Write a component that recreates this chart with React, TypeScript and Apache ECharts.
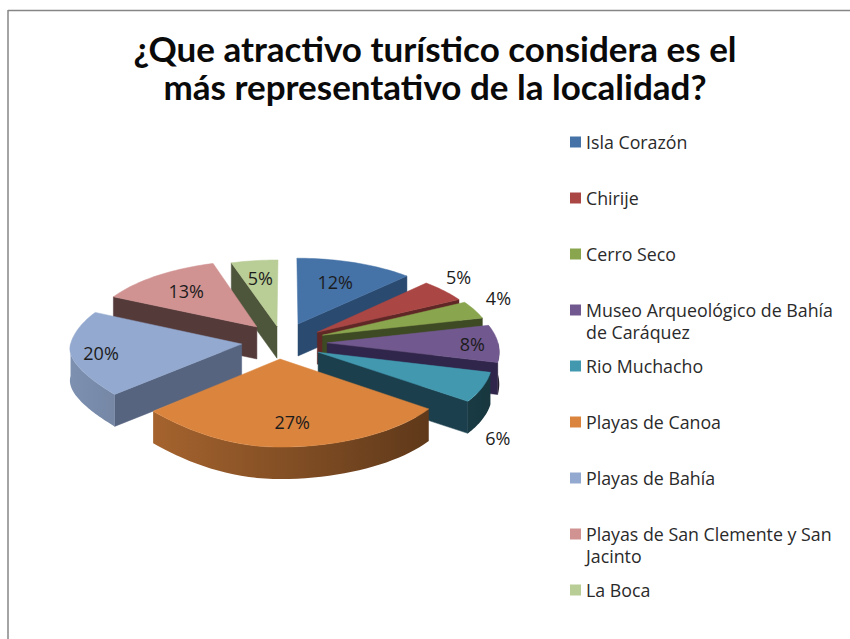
import React, { useEffect, useRef } from "react";
import * as echarts from "echarts";

const titleText = "¿Que atractivo turístico considera es el\nmás representativo de la localidad?";
const categories = [
  "Isla Corazón",
  "Chirije",
  "Cerro Seco",
  "Museo Arqueológico de Bahía\nde Caráquez",
  "Rio Muchacho",
  "Playas de Canoa",
  "Playas de Bahía",
  "Playas de San Clemente y San\nJacinto",
  "La Boca",
];
const shares = [12, 5, 4, 8, 6, 27, 20, 13, 5];
const topColors = ["#4572A7", "#AA4643", "#89A54E", "#71588F", "#4198AF", "#DB843D", "#93A9CF", "#D19392", "#B9CD96"];
const faceColors = ["#2A4A70", "#5F2725", "#3E4A24", "#30254A", "#1B3F4C", "#5A3414", "#566480", "#553A3A", "#4D553A"];
// how far each wedge is pulled away from the pie centre (fractions of the radius)
const pullX = [0.066, 0.18, 0.21, 0.235, 0.18, -0.04, -0.265, -0.18, -0.06];
const pullY = [-0.2, -0.09, -0.05, 0.05, 0.17, 0.255, 0.065, -0.16, -0.17];
// label placement along each wedge's middle angle (fractions of the radius) and extra drop in px
const labelRadius = [0.66, 1.16, 1.18, 0.85, 1.09, 0.72, 0.82, 0.69, 0.72];
const labelDrop = [0, -6, -6, 1, 47, 1, -3, 0, 0];

const CX = 287, CY = 339, R = 170, TILT = 0.45, PERSP = 0.1, DEPTH = 32;
const TITLE_FONT = "Lato, sans-serif";
const FONT = "'Open Sans', sans-serif";

const total = shares.reduce((a, b) => a + b, 0);
const rad = (d: number) => (d * Math.PI) / 180;
const project = (X: number, Y: number): [number, number] => {
  const s = 1 + PERSP * Y;
  return [CX + R * X * s, CY + R * TILT * Y * s];
};
const down = (p: [number, number]): [number, number] => [p[0], p[1] + DEPTH];
const wallFill = (hex: string) =>
  new echarts.graphic.LinearGradient(
    70,
    0,
    500,
    0,
    [
      { offset: 0, color: mix(hex, 0.85) },
      { offset: 1, color: mix(hex, 0.35) },
    ],
    true
  );
function mix(hex: string, f: number) {
  const n = parseInt(hex.slice(1), 16);
  const c = [(n >> 16) & 255, (n >> 8) & 255, n & 255].map((v) => Math.round(v * f));
  return `rgb(${c[0]},${c[1]},${c[2]})`;
}

function wedgeAngles(i: number) {
  const before = shares.slice(0, i).reduce((a, b) => a + b, 0);
  return [(before / total) * 360, ((before + shares[i]) / total) * 360];
}

function makeRender(i: number) {
  return (_params: any, api: any) => {
    const [a0] = wedgeAngles(i);
    const a1 = a0 + (api.value(0) / total) * 360;
    const px = pullX[i], py = pullY[i];
    // the 3D view bends the angles a little, differently per quadrant
    const rim = (deg: number) => {
      const twist = Math.sin(rad(2 * deg));
      const forX = deg < 90 ? 2 : 0;
      const forY = deg < 90 ? 2 : deg > 180 && deg < 270 ? 9 : 0;
      return project(px + Math.sin(rad(deg + forX * twist)), py - Math.cos(rad(deg + forY * twist)));
    };
    const apex = project(px, py);
    const children: any[] = [];
    const face = (deg: number) => {
      const p = rim(deg);
      children.push({
        type: "polygon",
        shape: { points: [apex, p, down(p), down(apex)] },
        style: { fill: faceColors[i], stroke: faceColors[i], lineWidth: 0.5 },
      });
    };
    if (Math.sin(rad(a0)) < 0) face(a0);
    if (Math.sin(rad(a1)) > 0) face(a1);
    // visible part of the outer wall
    const lo = Math.max(a0, 90), hi = Math.min(a1, 270);
    if (hi > lo) {
      const upper: [number, number][] = [];
      for (let k = 0; k <= 40; k++) upper.push(rim(lo + ((hi - lo) * k) / 40));
      const lower = upper.map(down).reverse();
      children.push({
        type: "polygon",
        shape: { points: [...upper, ...lower] },
        style: { fill: wallFill(topColors[i]) },
      });
    }
    const pts: [number, number][] = [apex];
    for (let d = a0; d < a1; d += 1.5) pts.push(rim(d));
    pts.push(rim(a1));
    children.push({
      type: "polygon",
      shape: { points: pts },
      style: { fill: topColors[i], stroke: topColors[i], lineWidth: 0.5 },
    });
    const mid = (a0 + a1) / 2;
    const lp = project(px + labelRadius[i] * Math.sin(rad(mid)), py - labelRadius[i] * Math.cos(rad(mid)));
    children.push({
      type: "text",
      z2: 100,
      style: {
        text: `${Math.round((api.value(0) / total) * 100)}%`,
        x: lp[0],
        y: lp[1] + labelDrop[i],
        align: "center",
        verticalAlign: "middle",
        fill: "#1c1c1c",
        font: `18px ${FONT}`,
      },
    });
    return { type: "group", children };
  };
}

export default function App() {
  const ref = useRef<HTMLDivElement>(null);
  useEffect(() => {
    const chart = echarts.init(ref.current!, undefined, { renderer: "svg" });
    const depthOf = (i: number) => {
      const [a0, a1] = wedgeAngles(i);
      return pullY[i] - Math.cos(rad((a0 + a1) / 2));
    };
    const order = categories.map((_, i) => i).sort((a, b) => depthOf(a) - depthOf(b));
    const PITCH = 56, FIRST = 142;
    chart.setOption({
      animation: false,
      backgroundColor: "#ffffff",
      title: {
        text: titleText,
        left: 430,
        top: 24,
        textAlign: "center",
        textStyle: { fontFamily: TITLE_FONT, fontSize: 35, fontWeight: "bold", color: "#0a0a0a", lineHeight: 38 },
      },
      legend: categories.map((name, i) => {
        const twoLine = name.includes("\n");
        return {
          data: [name],
          left: 570,
          top: FIRST + i * PITCH - (twoLine ? 33 : 11),
          orient: "vertical",
          icon: "rect",
          itemWidth: 11,
          itemHeight: 11,
          itemGap: 0,
          padding: 0,
          selectedMode: false,
          formatter: (n: string) => (n.includes("\n") ? "\n" + n : n),
          textStyle: {
            fontFamily: FONT,
            fontSize: 17.8,
            lineHeight: 22,
            color: "#2a2a2a",
          },
        };
      }),
      graphic: [
        { type: "line", shape: { x1: 8, y1: 10.5, x2: 850, y2: 10.5 }, style: { stroke: "#868686", lineWidth: 1.5 } },
        { type: "line", shape: { x1: 8, y1: 10, x2: 8, y2: 639 }, style: { stroke: "#868686", lineWidth: 1.5 } },
      ],
      series: categories.map((name, i) => ({
        type: "custom",
        name,
        coordinateSystem: "none",
        z: 2 + order.indexOf(i),
        itemStyle: { color: topColors[i] },
        data: [[shares[i]]],
        renderItem: makeRender(i),
      })),
    });
    return () => chart.dispose();
  }, []);
  return (
    <div style={{ position: "fixed", left: 0, top: 0, width: 850, height: 639, background: "#fff" }}>
      <div ref={ref} style={{ width: 850, height: 639 }} />
    </div>
  );
}
